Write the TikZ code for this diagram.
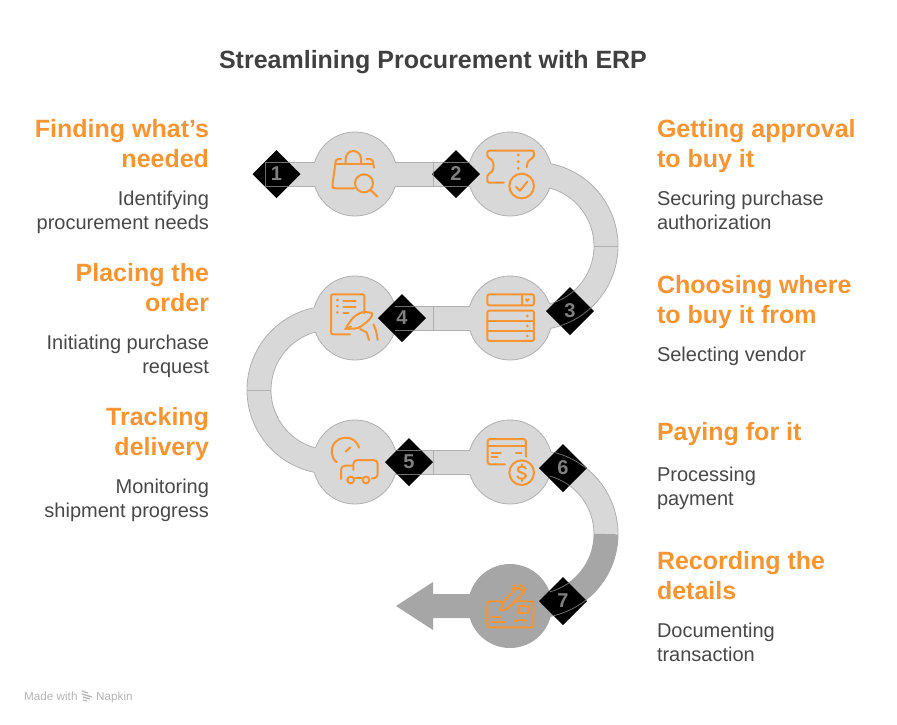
\documentclass[tikz,border=0pt]{standalone}
\usepackage{fontspec}
\setmainfont{Liberation Sans}
\usetikzlibrary{shapes.geometric}
\definecolor{bandl}{HTML}{D8D8D8}
\definecolor{bandd}{HTML}{A6A6A6}
\definecolor{edgel}{HTML}{B0B0B0}
\definecolor{edgein}{HTML}{707070}
\definecolor{ora}{HTML}{F79533}
\definecolor{txt}{HTML}{484848}
\definecolor{ttl}{HTML}{404040}
\definecolor{foot}{HTML}{B4B4B4}
\definecolor{num}{HTML}{808080}
\tikzset{
 stop/.style={circle,minimum size=84pt,inner sep=0pt,outer sep=0pt,fill=bandl,draw=edgel,line width=.8pt},
 stopd/.style={circle,minimum size=84pt,inner sep=0pt,outer sep=0pt,fill=bandd},
 badge/.style={diamond,shape aspect=1,minimum width=48pt,minimum height=48pt,inner sep=0pt,outer sep=0pt,fill=black,text=num,font=\fontsize{20}{20}\selectfont\bfseries},
 bandf/.style={draw=bandl,line width=24pt},
 bandk/.style={draw=bandd,line width=24pt},
 heads/.style={inner sep=0pt,outer sep=0pt,text=ora,font=\fontsize{25}{30}\selectfont\bfseries},
 bodys/.style={inner sep=0pt,outer sep=0pt,text=txt,font=\fontsize{20}{24}\selectfont},
 ico/.style={draw=ora,line width=2pt,line cap=round,line join=round},
 dot/.style={fill=ora,draw=none}
}
\newcommand{\bandedges}[2]{%
 \begin{scope}[draw=#1,line width=.8pt]
 \draw (314.8,162) -- (265,162) -- (265,186) -- (314.8,186);
 \draw (395.2,162) -- (469.8,162) (395.2,186) -- (469.8,186);
 \draw (433,162) -- (433,186);
 \draw (395.2,306) -- (469.8,306) (395.2,330) -- (469.8,330);
 \draw (433,306) -- (433,330);
 \draw (395.2,450) -- (469.8,450) (395.2,474) -- (469.8,474);
 \draw (433,450) -- (433,474);
 \draw ([shift={(-78.6:84)}]534,246) arc (-78.6:78.6:84);
 \draw ([shift={(-74.8:60)}]534,246) arc (-74.8:74.8:60);
 \draw (594,246) -- (618,246);
 \draw ([shift={(258.6:84)}]331,390) arc (258.6:101.4:84);
 \draw ([shift={(254.8:60)}]331,390) arc (254.8:105.2:60);
 \draw (247,390) -- (271,390);
 \draw ([shift={(-78.6:84)}]534,534) arc (-78.6:0:84);
 \draw ([shift={(-74.8:60)}]534,534) arc (-74.8:0:60);
 \end{scope}
 \begin{scope}[draw=#2,line width=.8pt]
 \draw ([shift={(0:84)}]534,534) arc (0:78.6:84);
 \draw ([shift={(0:60)}]534,534) arc (0:74.8:60);
 \end{scope}
}
\newcommand{\clipedges}[1]{%
 \begin{scope}
 \clip (#1.north) -- (#1.east) -- (#1.south) -- (#1.west) -- cycle;
 \bandedges{edgein}{edgein}
 \end{scope}
}
\begin{document}
\begin{tikzpicture}[x=1pt,y=1pt,yscale=-1]
\useasboundingbox[fill=white] (0,0) rectangle (897,724);
% stops
\node[stop] (c1) at (355,174) {};
\node[stop] (c2) at (510,174) {};
\node[stop] (c3) at (510,318) {};
\node[stop] (c4) at (355,318) {};
\node[stop] (c5) at (355,462) {};
\node[stop] (c6) at (510,462) {};
\node[stopd] (c7) at (510,606) {};
\coordinate (start) at (265,174);
\coordinate (tail) at (433,606);
\coordinate (tip) at (396,606);
% band bodies
\draw[bandf] (start) -- (c1.center) -- (c2.center) -- (534,174) arc (-90:90:72) -- (c3.center) -- (c4.center);
\draw[bandf] (c4.center) -- (331,318) arc (270:90:72) -- (c5.center) -- (c6.center) -- (534,462) arc (-90:0:72);
\draw[bandk] (606,534) arc (0:90:72) -- (c7.center) -- (tail);
\fill[bandd] (433,582) -- (tip) -- (433,630) -- cycle;
\bandedges{edgel}{bandd}
% badges
\node[badge] (d1) at (276.5,174) {1};
\node[badge] (d2) at (456,174) {2};
\node[badge] (d3) at (570,311) {3};
\node[badge] (d4) at (402,318) {4};
\node[badge] (d5) at (409,462) {5};
\node[badge] (d6) at (563,468) {6};
\node[badge] (d7) at (563,601) {7};
\clipedges{d1}\clipedges{d2}\clipedges{d3}\clipedges{d4}\clipedges{d5}\clipedges{d6}\clipedges{d7}
% icon 1
\begin{scope}[shift={(325,145)},scale=0.3333]
 \draw[ico] (62,56) -- (62,41) arc (180:360:23) -- (108,56);
 \draw[ico,rounded corners=2.5pt] (48,42) -- (33,42) -- (22,122) -- (24,130) -- (88,130);
 \draw[ico] (32,56) -- (143,56);
 \draw[ico,rounded corners=2pt] (125,42) -- (142,42) -- (147,68);
 \draw[ico] (117,115) circle [radius=27];
 \draw[ico] (137,135) -- (157,155);
\end{scope}
% icon 2
\begin{scope}[shift={(430,120)},scale=0.3333]
 \draw[ico,rounded corners=2pt] (222,188) -- (172,188) -- (172,162) .. controls (195,155) and (195,120) .. (172,113) -- (172,92) -- (312,92) -- (312,113) .. controls (298,118) and (290,128) .. (290,142);
 \fill[dot] (265,105) circle [radius=4.5] (265,125) circle [radius=4.5] (265,145) circle [radius=4.5];
 \draw[ico] (275,198) circle [radius=37];
 \draw[ico] (258,200) -- (270,212) -- (292,185);
\end{scope}
% icon 3
\begin{scope}[shift={(430,120)},scale=0.3333]
 \draw[ico,rounded corners=2pt] (172,523) rectangle (312,556);
 \draw[ico] (275,523) -- (275,556);
 \fill[ora] (292,547) -- (285,539) -- (288,535) -- (292,537) -- (296,535) -- (299,539) -- cycle;
 \draw[ico,rounded corners=2pt] (172,572) rectangle (312,663);
 \draw[ico] (172,602) -- (312,602) (172,632) -- (312,632);
 \fill[dot] (292,588) circle [radius=4.5] (292,618) circle [radius=4.5] (292,648) circle [radius=4.5];
\end{scope}
% icon 4
\begin{scope}[shift={(325,285)},scale=0.3333]
 \draw[ico,rounded corners=2pt] (75,148) -- (18,148) -- (18,28) -- (118,28) -- (118,85);
 \fill[dot] (37,45) circle [radius=4.5] (37,63) circle [radius=4.5] (37,82) circle [radius=4.5];
 \draw[ico] (55,47) -- (92,47) (55,65) -- (92,65) (55,83) -- (70,83);
 \draw[ico,rounded corners=3pt] (60,132) -- (85,96) -- (112,80) -- (146,84) -- (132,106) -- (100,130) -- cycle;
 \draw[ico] (60,132) -- (78,125);
 \draw[ico] (105,132) -- (125,142) -- (132,165);
 \draw[ico] (145,118) .. controls (152,130) and (156,148) .. (158,165);
\end{scope}
% icon 5
\begin{scope}[shift={(325,435)},scale=0.3333]
 \draw[ico] (35,82) arc (130:343:42);
 \draw[ico] (62,50) -- (76,37);
 \draw[ico,rounded corners=4pt] (48,132) -- (48,92) -- (85,92);
 \draw[ico,rounded corners=4pt] (85,105) -- (85,75) -- (158,75) -- (158,130) -- (140,130);
 \draw[ico] (90,130) -- (110,130);
 \draw[ico] (77,135) circle [radius=10];
 \draw[ico] (123,135) circle [radius=10];
\end{scope}
% icon 6
\begin{scope}[shift={(390,410)},scale=0.3333]
 \draw[ico,rounded corners=2.5pt] (345,163) -- (293,163) -- (293,87) -- (408,87) -- (408,140);
 \draw[ico] (293,107) -- (408,107);
 \draw[ico] (305,128) -- (333,128) (305,141) -- (322,141) (378,128) -- (395,128);
 \draw[ico] (395,188) circle [radius=37];
 \draw[ico] (408,176) .. controls (404,167) and (385,167) .. (383,178) .. controls (382,190) and (408,186) .. (408,198) .. controls (406,209) and (386,209) .. (382,199);
 \draw[ico] (395,163) -- (395,169) (395,207) -- (395,213);
\end{scope}
% icon 7
\begin{scope}[shift={(480,578)},scale=0.3333]
 \draw[ico,rounded corners=2pt] (65,70) -- (22,70) -- (22,148) -- (160,148) -- (160,70) -- (110,70);
 \draw[ico] (117,85) rectangle (143,105);
 \draw[ico] (35,117) -- (62,117) (35,133) -- (75,133);
 \draw[ico] (103,129) .. controls (110,122) and (115,132) .. (122,126) .. controls (128,122) and (132,132) .. (142,128);
 \draw[ico,rounded corners=1.5pt] (60,100) -- (70,72) -- (112,27) -- (133,42) -- (85,90) -- cycle;
 \draw[ico] (97,33) -- (108,21) (120,20) -- (136,34) -- (128,46);
\end{scope}
% text
\node[anchor=base,text=ttl,font=\fontsize{25}{28}\selectfont\bfseries] (title) at (433,68) {Streamlining Procurement with ERP};
\node[heads,anchor=base east] (h1a) at (209,137) {Finding what’s};
\node[heads,anchor=base east] (h1b) at (209,167) {needed};
\node[bodys,anchor=base east] (b1a) at (209,205) {Identifying};
\node[bodys,anchor=base east] (b1b) at (209,229) {procurement needs};
\node[heads,anchor=base east] (h4a) at (209,281) {Placing the};
\node[heads,anchor=base east] (h4b) at (209,311) {order};
\node[bodys,anchor=base east] (b4a) at (209,349) {Initiating purchase};
\node[bodys,anchor=base east] (b4b) at (209,373) {request};
\node[heads,anchor=base east] (h5a) at (209,425) {Tracking};
\node[heads,anchor=base east] (h5b) at (209,455) {delivery};
\node[bodys,anchor=base east] (b5a) at (209,493) {Monitoring};
\node[bodys,anchor=base east] (b5b) at (209,517) {shipment progress};
\node[heads,anchor=base west] (h2a) at (657,137) {Getting approval};
\node[heads,anchor=base west] (h2b) at (657,167) {to buy it};
\node[bodys,anchor=base west] (b2a) at (657,205) {Securing purchase};
\node[bodys,anchor=base west] (b2b) at (657,229) {authorization};
\node[heads,anchor=base west] (h3a) at (657,293) {Choosing where};
\node[heads,anchor=base west] (h3b) at (657,323) {to buy it from};
\node[bodys,anchor=base west] (b3a) at (657,361) {Selecting vendor};
\node[heads,anchor=base west] (h6a) at (657,440) {Paying for it};
\node[bodys,anchor=base west] (b6a) at (657,481) {Processing};
\node[bodys,anchor=base west] (b6b) at (657,505) {payment};
\node[heads,anchor=base west] (h7a) at (657,569) {Recording the};
\node[heads,anchor=base west] (h7b) at (657,599) {details};
\node[bodys,anchor=base west] (b7a) at (657,637) {Documenting};
\node[bodys,anchor=base west] (b7b) at (657,661) {transaction};
% footer
\node[anchor=base west,inner sep=0pt,text=foot,font=\fontsize{11.7}{13}\selectfont] (fa) at (24,700) {Made with};
\node[anchor=base west,inner sep=0pt,text=foot,font=\fontsize{11.7}{13}\selectfont] (fb) at (96,700) {Napkin};
\draw[foot,line width=1.2pt] (82,691) -- (88,693) (82,694) -- (92,697) (83,697) -- (90,699) (83,700) -- (87,701);
\end{tikzpicture}
\end{document}
